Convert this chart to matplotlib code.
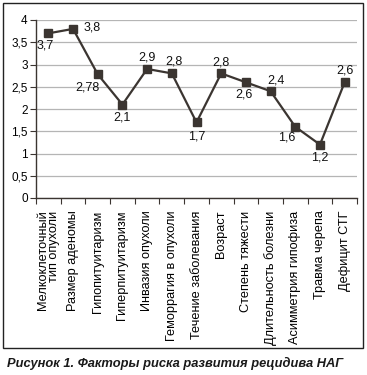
import matplotlib
matplotlib.use("Agg")
import matplotlib.pyplot as plt
from matplotlib.patches import Rectangle

categories = ["Мелкоклеточный\nтип опухоли", "Размер аденомы", "Гипопитуитаризм",
              "Гиперпитуитаризм", "Инвазия опухоли", "Геморрагия в опухоли",
              "Течение заболевания", "Возраст", "Степень тяжести",
              "Длительность болезни", "Асимметрия гипофиза", "Травма черепа",
              "Дефицит СТГ"]
values = [3.7, 3.8, 2.78, 2.1, 2.9, 2.8, 1.7, 2.8, 2.6, 2.4, 1.6, 1.2, 2.6]
label_offsets = [(-3, -12), (19, 1), (-10, -13), (0, -13), (0, 11), (2, 12),
                 (0, -14), (0, 11), (-2, -12), (5, 11), (-9, -11), (0, -13), (0, 12)]
yticks = [0, 0.5, 1, 1.5, 2, 2.5, 3, 3.5, 4]

plt.rcParams['font.family'] = ['Liberation Sans', 'DejaVu Sans']

W, H = 367, 375
fig = plt.figure(figsize=(W / 100, H / 100), dpi=100)
ax = fig.add_axes([36 / W, 1 - 198 / H, (357 - 36) / W, (198 - 20) / H])

col = '#3b3531'
x = list(range(len(values)))
ax.plot(x, values, color=col, lw=1.6, marker='s', ms=5.5, zorder=3)
for xi, v, (dx, dy) in zip(x, values, label_offsets):
    ax.annotate(f"{v:g}".replace('.', ','), (xi, v), xytext=(dx, dy),
                textcoords='offset pixels', ha='center', va='center', fontsize=9, color='#111111')

ax.set_xlim(-0.5, len(values) - 0.5)
ax.set_ylim(0, 4)
ax.set_yticks(yticks)
ax.set_yticklabels([f"{t:g}".replace('.', ',') for t in yticks], fontsize=8.5)
ax.yaxis.grid(True, color='#b5b5b5', lw=0.9)
ax.set_axisbelow(True)
ax.set_xticks([i - 0.5 for i in range(len(values) + 1)])
ax.set_xticklabels([])
ax.set_xticks(x, minor=True)
ax.set_xticklabels(categories, minor=True, rotation=90, fontsize=9.2, va='top', ha='center',
                   multialignment='right', linespacing=0.95)
ax.tick_params(axis='x', which='minor', length=0, pad=9)
ax.tick_params(axis='x', which='major', length=4, direction='out', color=col)
ax.tick_params(axis='y', length=4, direction='out', color=col, pad=2)
for s in ['top', 'right']:
    ax.spines[s].set_visible(False)
for s in ['left', 'bottom']:
    ax.spines[s].set_color(col)
    ax.spines[s].set_linewidth(1)

fig.patches.append(Rectangle((3 / W, 1 - 348 / H), 360 / W, 345 / H, transform=fig.transFigure,
                             fill=False, edgecolor='#222222', lw=1))
fig.text(7 / W, 1 - 363 / H, "Рисунок 1. Факторы риска развития рецидива НАГ",
         fontsize=9.3, fontweight='bold', style='italic', va='center', ha='left', color='#1a1a1a')

fig.savefig("out.png", dpi=100)
